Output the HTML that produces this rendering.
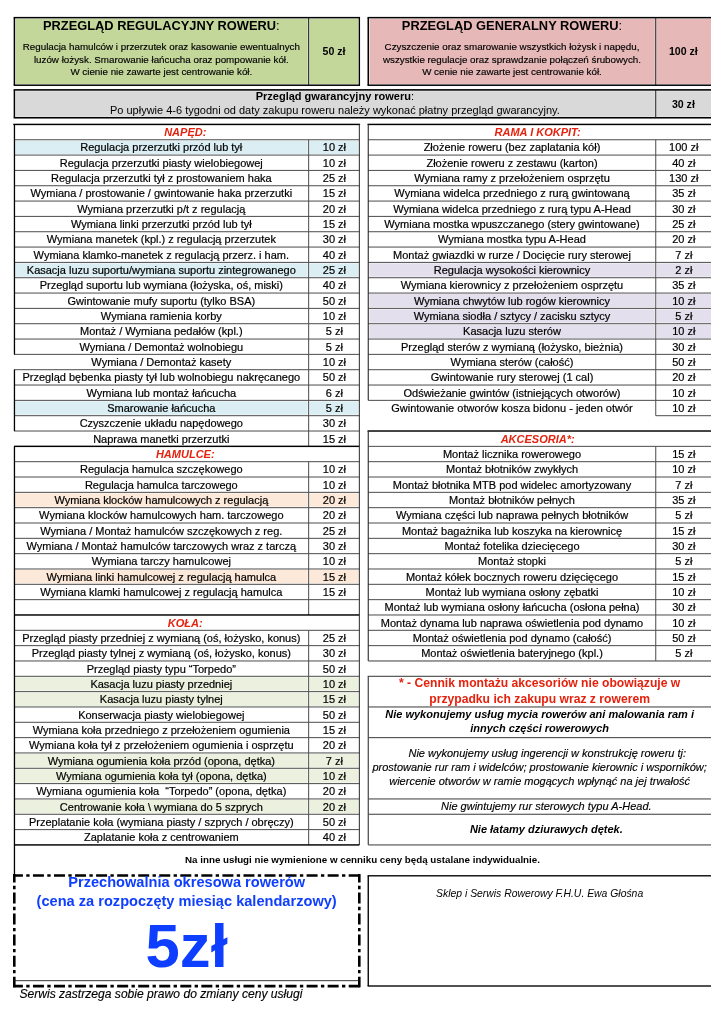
<!DOCTYPE html>
<html lang="pl"><head><meta charset="utf-8"><title>Cennik serwisu rowerowego</title>
<style>
html,body{margin:0;padding:0;background:#fff}
body{width:725px;height:1024px;position:relative;overflow:hidden;font-family:"Liberation Sans",sans-serif;color:#000}
#pg{position:absolute;left:0;top:0;width:711px;height:1024px;overflow:hidden;will-change:transform;transform:translateZ(0)}
#pg div,#pg svg{position:absolute;box-sizing:border-box}
#gfx{left:0;top:0}
.c{display:flex;align-items:center;justify-content:center;text-align:center;white-space:nowrap}
.t{font-size:11px;color:#000;-webkit-text-stroke:0.2px #000}
.h{font-size:11px;font-weight:bold;font-style:italic;color:#e4220e}
.tt{}
.td{color:#000;-webkit-text-stroke:0.15px #000}
.n1{font-weight:bold;color:#e4220e}
.n2{font-weight:bold;font-style:italic}
.n3{font-style:italic;color:#000;-webkit-text-stroke:0.15px #000}
.ni{font-weight:bold}
.pz,.big{font-weight:bold;color:#0e3eff}
.sk{font-style:italic}
.ft{font-style:italic;color:#000;-webkit-text-stroke:0.15px #000}
.tp{font-size:10.6px;font-weight:bold}
</style></head>
<body><div id="pg">
<svg id="gfx" width="711" height="1024" viewBox="0 0 711 1024" shape-rendering="geometricPrecision">
<g><rect x="15.10" y="140.75" width="292.55" height="13.33" fill="#daeef3"/>
<rect x="309.65" y="140.75" width="48.70" height="13.33" fill="#daeef3"/>
<rect x="15.10" y="263.39" width="292.55" height="13.33" fill="#daeef3"/>
<rect x="309.65" y="263.39" width="48.70" height="13.33" fill="#daeef3"/>
<rect x="15.10" y="401.36" width="292.55" height="13.33" fill="#daeef3"/>
<rect x="309.65" y="401.36" width="48.70" height="13.33" fill="#daeef3"/>
<rect x="15.10" y="493.34" width="292.55" height="13.33" fill="#fde9d9"/>
<rect x="309.65" y="493.34" width="48.70" height="13.33" fill="#fde9d9"/>
<rect x="15.10" y="569.99" width="292.55" height="13.33" fill="#fde9d9"/>
<rect x="309.65" y="569.99" width="48.70" height="13.33" fill="#fde9d9"/>
<rect x="15.10" y="677.30" width="292.55" height="13.33" fill="#ebf1de"/>
<rect x="309.65" y="677.30" width="48.70" height="13.33" fill="#ebf1de"/>
<rect x="15.10" y="692.63" width="292.55" height="13.33" fill="#ebf1de"/>
<rect x="309.65" y="692.63" width="48.70" height="13.33" fill="#ebf1de"/>
<rect x="15.10" y="753.95" width="292.55" height="13.33" fill="#ebf1de"/>
<rect x="309.65" y="753.95" width="48.70" height="13.33" fill="#ebf1de"/>
<rect x="15.10" y="769.28" width="292.55" height="13.33" fill="#ebf1de"/>
<rect x="309.65" y="769.28" width="48.70" height="13.33" fill="#ebf1de"/>
<rect x="15.10" y="799.94" width="292.55" height="13.33" fill="#ebf1de"/>
<rect x="309.65" y="799.94" width="48.70" height="13.33" fill="#ebf1de"/>
<rect x="369.35" y="263.39" width="285.40" height="13.33" fill="#e4dfec"/>
<rect x="656.75" y="263.39" width="55.25" height="13.33" fill="#e4dfec"/>
<rect x="369.35" y="294.05" width="285.40" height="13.33" fill="#e4dfec"/>
<rect x="656.75" y="294.05" width="55.25" height="13.33" fill="#e4dfec"/>
<rect x="369.35" y="309.38" width="285.40" height="13.33" fill="#e4dfec"/>
<rect x="656.75" y="309.38" width="55.25" height="13.33" fill="#e4dfec"/>
<rect x="369.35" y="324.71" width="285.40" height="13.33" fill="#e4dfec"/>
<rect x="656.75" y="324.71" width="55.25" height="13.33" fill="#e4dfec"/>
<rect x="15.60" y="18.85" width="292.15" height="65.15" fill="#c4d79b"/>
<rect x="309.55" y="18.85" width="48.60" height="65.15" fill="#c4d79b"/>
<rect x="369.45" y="18.85" width="285.40" height="65.15" fill="#e6b8b7"/>
<rect x="656.65" y="18.85" width="54.35" height="65.15" fill="#e6b8b7"/>
<rect x="15.60" y="91.20" width="639.25" height="25.25" fill="#d9d9d9"/>
<rect x="656.65" y="91.20" width="54.35" height="25.25" fill="#d9d9d9"/></g>
<g><rect x="14.00" y="139.25" width="345.35" height="1.00" fill="#4c4c4c"/>
<rect x="308.15" y="139.75" width="1.00" height="15.33" fill="#4c4c4c"/>
<rect x="14.00" y="154.58" width="345.35" height="1.00" fill="#4c4c4c"/>
<rect x="308.15" y="155.08" width="1.00" height="15.33" fill="#4c4c4c"/>
<rect x="14.00" y="169.91" width="345.35" height="1.00" fill="#4c4c4c"/>
<rect x="308.15" y="170.41" width="1.00" height="15.33" fill="#4c4c4c"/>
<rect x="14.00" y="185.24" width="345.35" height="1.00" fill="#4c4c4c"/>
<rect x="308.15" y="185.74" width="1.00" height="15.33" fill="#4c4c4c"/>
<rect x="14.00" y="200.57" width="345.35" height="1.00" fill="#4c4c4c"/>
<rect x="308.15" y="201.07" width="1.00" height="15.33" fill="#4c4c4c"/>
<rect x="14.00" y="215.90" width="345.35" height="1.00" fill="#4c4c4c"/>
<rect x="308.15" y="216.40" width="1.00" height="15.33" fill="#4c4c4c"/>
<rect x="14.00" y="231.23" width="345.35" height="1.00" fill="#4c4c4c"/>
<rect x="308.15" y="231.73" width="1.00" height="15.33" fill="#4c4c4c"/>
<rect x="14.00" y="246.56" width="345.35" height="1.00" fill="#4c4c4c"/>
<rect x="308.15" y="247.06" width="1.00" height="15.33" fill="#4c4c4c"/>
<rect x="14.00" y="261.89" width="345.35" height="1.00" fill="#4c4c4c"/>
<rect x="308.15" y="262.39" width="1.00" height="15.33" fill="#4c4c4c"/>
<rect x="14.00" y="277.22" width="345.35" height="1.00" fill="#4c4c4c"/>
<rect x="308.15" y="277.72" width="1.00" height="15.33" fill="#4c4c4c"/>
<rect x="14.00" y="292.55" width="345.35" height="1.00" fill="#4c4c4c"/>
<rect x="308.15" y="293.05" width="1.00" height="15.33" fill="#4c4c4c"/>
<rect x="14.00" y="307.88" width="345.35" height="1.00" fill="#4c4c4c"/>
<rect x="308.15" y="308.38" width="1.00" height="15.33" fill="#4c4c4c"/>
<rect x="14.00" y="323.21" width="345.35" height="1.00" fill="#4c4c4c"/>
<rect x="308.15" y="323.71" width="1.00" height="15.33" fill="#4c4c4c"/>
<rect x="14.00" y="338.54" width="345.35" height="1.00" fill="#4c4c4c"/>
<rect x="308.15" y="339.04" width="1.00" height="15.33" fill="#4c4c4c"/>
<rect x="14.00" y="353.87" width="345.35" height="1.00" fill="#4c4c4c"/>
<rect x="308.15" y="354.37" width="1.00" height="15.33" fill="#4c4c4c"/>
<rect x="14.00" y="369.20" width="345.35" height="1.00" fill="#4c4c4c"/>
<rect x="308.15" y="369.70" width="1.00" height="15.33" fill="#4c4c4c"/>
<rect x="14.00" y="384.53" width="345.35" height="1.00" fill="#4c4c4c"/>
<rect x="308.15" y="385.03" width="1.00" height="15.33" fill="#4c4c4c"/>
<rect x="14.00" y="399.86" width="345.35" height="1.00" fill="#4c4c4c"/>
<rect x="308.15" y="400.36" width="1.00" height="15.33" fill="#4c4c4c"/>
<rect x="14.00" y="415.19" width="345.35" height="1.00" fill="#4c4c4c"/>
<rect x="308.15" y="415.69" width="1.00" height="15.33" fill="#4c4c4c"/>
<rect x="14.00" y="430.52" width="345.35" height="1.00" fill="#4c4c4c"/>
<rect x="308.15" y="431.02" width="1.00" height="15.33" fill="#4c4c4c"/>
<rect x="14.00" y="445.62" width="345.35" height="1.45" fill="#000"/>
<rect x="14.00" y="461.18" width="345.35" height="1.00" fill="#4c4c4c"/>
<rect x="308.15" y="461.68" width="1.00" height="15.33" fill="#4c4c4c"/>
<rect x="14.00" y="476.51" width="345.35" height="1.00" fill="#4c4c4c"/>
<rect x="308.15" y="477.01" width="1.00" height="15.33" fill="#4c4c4c"/>
<rect x="14.00" y="491.84" width="345.35" height="1.00" fill="#4c4c4c"/>
<rect x="308.15" y="492.34" width="1.00" height="15.33" fill="#4c4c4c"/>
<rect x="14.00" y="507.17" width="345.35" height="1.00" fill="#4c4c4c"/>
<rect x="308.15" y="507.67" width="1.00" height="15.33" fill="#4c4c4c"/>
<rect x="14.00" y="522.50" width="345.35" height="1.00" fill="#4c4c4c"/>
<rect x="308.15" y="523.00" width="1.00" height="15.33" fill="#4c4c4c"/>
<rect x="14.00" y="537.83" width="345.35" height="1.00" fill="#4c4c4c"/>
<rect x="308.15" y="538.33" width="1.00" height="15.33" fill="#4c4c4c"/>
<rect x="14.00" y="553.16" width="345.35" height="1.00" fill="#4c4c4c"/>
<rect x="308.15" y="553.66" width="1.00" height="15.33" fill="#4c4c4c"/>
<rect x="14.00" y="568.49" width="345.35" height="1.00" fill="#4c4c4c"/>
<rect x="308.15" y="568.99" width="1.00" height="15.33" fill="#4c4c4c"/>
<rect x="14.00" y="583.82" width="345.35" height="1.00" fill="#4c4c4c"/>
<rect x="308.15" y="584.32" width="1.00" height="15.33" fill="#4c4c4c"/>
<rect x="14.00" y="599.15" width="345.35" height="1.00" fill="#4c4c4c"/>
<rect x="308.15" y="599.65" width="1.00" height="15.33" fill="#4c4c4c"/>
<rect x="14.00" y="614.25" width="345.35" height="1.45" fill="#000"/>
<rect x="14.00" y="629.81" width="345.35" height="1.00" fill="#4c4c4c"/>
<rect x="308.15" y="630.31" width="1.00" height="15.33" fill="#4c4c4c"/>
<rect x="14.00" y="645.14" width="345.35" height="1.00" fill="#4c4c4c"/>
<rect x="308.15" y="645.64" width="1.00" height="15.33" fill="#4c4c4c"/>
<rect x="14.00" y="660.47" width="345.35" height="1.00" fill="#4c4c4c"/>
<rect x="308.15" y="660.97" width="1.00" height="15.33" fill="#4c4c4c"/>
<rect x="14.00" y="675.80" width="345.35" height="1.00" fill="#4c4c4c"/>
<rect x="308.15" y="676.30" width="1.00" height="15.33" fill="#4c4c4c"/>
<rect x="14.00" y="691.13" width="345.35" height="1.00" fill="#4c4c4c"/>
<rect x="308.15" y="691.63" width="1.00" height="15.33" fill="#4c4c4c"/>
<rect x="14.00" y="706.46" width="345.35" height="1.00" fill="#4c4c4c"/>
<rect x="308.15" y="706.96" width="1.00" height="15.33" fill="#4c4c4c"/>
<rect x="14.00" y="721.79" width="345.35" height="1.00" fill="#4c4c4c"/>
<rect x="308.15" y="722.29" width="1.00" height="15.33" fill="#4c4c4c"/>
<rect x="14.00" y="737.12" width="345.35" height="1.00" fill="#4c4c4c"/>
<rect x="308.15" y="737.62" width="1.00" height="15.33" fill="#4c4c4c"/>
<rect x="14.00" y="752.45" width="345.35" height="1.00" fill="#4c4c4c"/>
<rect x="308.15" y="752.95" width="1.00" height="15.33" fill="#4c4c4c"/>
<rect x="14.00" y="767.78" width="345.35" height="1.00" fill="#4c4c4c"/>
<rect x="308.15" y="768.28" width="1.00" height="15.33" fill="#4c4c4c"/>
<rect x="14.00" y="783.11" width="345.35" height="1.00" fill="#4c4c4c"/>
<rect x="308.15" y="783.61" width="1.00" height="15.33" fill="#4c4c4c"/>
<rect x="14.00" y="798.44" width="345.35" height="1.00" fill="#4c4c4c"/>
<rect x="308.15" y="798.94" width="1.00" height="15.33" fill="#4c4c4c"/>
<rect x="14.00" y="813.77" width="345.35" height="1.00" fill="#4c4c4c"/>
<rect x="308.15" y="814.27" width="1.00" height="15.33" fill="#4c4c4c"/>
<rect x="14.00" y="829.10" width="345.35" height="1.00" fill="#4c4c4c"/>
<rect x="308.15" y="829.60" width="1.00" height="15.33" fill="#4c4c4c"/>
<rect x="13.28" y="123.70" width="346.80" height="1.45" fill="#000"/>
<rect x="358.83" y="124.42" width="1.05" height="720.51" fill="#333"/>
<rect x="14.00" y="844.20" width="345.35" height="1.45" fill="#000"/>
<rect x="368.25" y="139.25" width="342.75" height="1.00" fill="#4c4c4c"/>
<rect x="655.25" y="139.75" width="1.00" height="15.33" fill="#4c4c4c"/>
<rect x="368.25" y="154.58" width="342.75" height="1.00" fill="#4c4c4c"/>
<rect x="655.25" y="155.08" width="1.00" height="15.33" fill="#4c4c4c"/>
<rect x="368.25" y="169.91" width="342.75" height="1.00" fill="#4c4c4c"/>
<rect x="655.25" y="170.41" width="1.00" height="15.33" fill="#4c4c4c"/>
<rect x="368.25" y="185.24" width="342.75" height="1.00" fill="#4c4c4c"/>
<rect x="655.25" y="185.74" width="1.00" height="15.33" fill="#4c4c4c"/>
<rect x="368.25" y="200.57" width="342.75" height="1.00" fill="#4c4c4c"/>
<rect x="655.25" y="201.07" width="1.00" height="15.33" fill="#4c4c4c"/>
<rect x="368.25" y="215.90" width="342.75" height="1.00" fill="#4c4c4c"/>
<rect x="655.25" y="216.40" width="1.00" height="15.33" fill="#4c4c4c"/>
<rect x="368.25" y="231.23" width="342.75" height="1.00" fill="#4c4c4c"/>
<rect x="655.25" y="231.73" width="1.00" height="15.33" fill="#4c4c4c"/>
<rect x="368.25" y="246.56" width="342.75" height="1.00" fill="#4c4c4c"/>
<rect x="655.25" y="247.06" width="1.00" height="15.33" fill="#4c4c4c"/>
<rect x="368.25" y="261.89" width="342.75" height="1.00" fill="#4c4c4c"/>
<rect x="655.25" y="262.39" width="1.00" height="15.33" fill="#4c4c4c"/>
<rect x="368.25" y="277.22" width="342.75" height="1.00" fill="#4c4c4c"/>
<rect x="655.25" y="277.72" width="1.00" height="15.33" fill="#4c4c4c"/>
<rect x="368.25" y="292.55" width="342.75" height="1.00" fill="#4c4c4c"/>
<rect x="655.25" y="293.05" width="1.00" height="15.33" fill="#4c4c4c"/>
<rect x="368.25" y="307.88" width="342.75" height="1.00" fill="#4c4c4c"/>
<rect x="655.25" y="308.38" width="1.00" height="15.33" fill="#4c4c4c"/>
<rect x="368.25" y="323.21" width="342.75" height="1.00" fill="#4c4c4c"/>
<rect x="655.25" y="323.71" width="1.00" height="15.33" fill="#4c4c4c"/>
<rect x="368.25" y="338.54" width="342.75" height="1.00" fill="#4c4c4c"/>
<rect x="655.25" y="339.04" width="1.00" height="15.33" fill="#4c4c4c"/>
<rect x="368.25" y="353.87" width="342.75" height="1.00" fill="#4c4c4c"/>
<rect x="655.25" y="354.37" width="1.00" height="15.33" fill="#4c4c4c"/>
<rect x="368.25" y="369.20" width="342.75" height="1.00" fill="#4c4c4c"/>
<rect x="655.25" y="369.70" width="1.00" height="15.33" fill="#4c4c4c"/>
<rect x="368.25" y="384.53" width="342.75" height="1.00" fill="#4c4c4c"/>
<rect x="655.25" y="385.03" width="1.00" height="15.33" fill="#4c4c4c"/>
<rect x="368.25" y="399.86" width="342.75" height="1.00" fill="#4c4c4c"/>
<rect x="655.25" y="400.36" width="1.00" height="15.33" fill="#4c4c4c"/>
<rect x="655.75" y="415.19" width="55.25" height="1.00" fill="#4c4c4c"/>
<rect x="367.52" y="123.70" width="343.48" height="1.45" fill="#000"/>
<rect x="367.70" y="124.42" width="1.10" height="275.94" fill="#2a2a2a"/>
<rect x="368.25" y="445.85" width="342.75" height="1.00" fill="#4c4c4c"/>
<rect x="655.25" y="446.35" width="1.00" height="15.33" fill="#4c4c4c"/>
<rect x="368.25" y="461.18" width="342.75" height="1.00" fill="#4c4c4c"/>
<rect x="655.25" y="461.68" width="1.00" height="15.33" fill="#4c4c4c"/>
<rect x="368.25" y="476.51" width="342.75" height="1.00" fill="#4c4c4c"/>
<rect x="655.25" y="477.01" width="1.00" height="15.33" fill="#4c4c4c"/>
<rect x="368.25" y="491.84" width="342.75" height="1.00" fill="#4c4c4c"/>
<rect x="655.25" y="492.34" width="1.00" height="15.33" fill="#4c4c4c"/>
<rect x="368.25" y="507.17" width="342.75" height="1.00" fill="#4c4c4c"/>
<rect x="655.25" y="507.67" width="1.00" height="15.33" fill="#4c4c4c"/>
<rect x="368.25" y="522.50" width="342.75" height="1.00" fill="#4c4c4c"/>
<rect x="655.25" y="523.00" width="1.00" height="15.33" fill="#4c4c4c"/>
<rect x="368.25" y="537.83" width="342.75" height="1.00" fill="#4c4c4c"/>
<rect x="655.25" y="538.33" width="1.00" height="15.33" fill="#4c4c4c"/>
<rect x="368.25" y="553.16" width="342.75" height="1.00" fill="#4c4c4c"/>
<rect x="655.25" y="553.66" width="1.00" height="15.33" fill="#4c4c4c"/>
<rect x="368.25" y="568.49" width="342.75" height="1.00" fill="#4c4c4c"/>
<rect x="655.25" y="568.99" width="1.00" height="15.33" fill="#4c4c4c"/>
<rect x="368.25" y="583.82" width="342.75" height="1.00" fill="#4c4c4c"/>
<rect x="655.25" y="584.32" width="1.00" height="15.33" fill="#4c4c4c"/>
<rect x="368.25" y="599.15" width="342.75" height="1.00" fill="#4c4c4c"/>
<rect x="655.25" y="599.65" width="1.00" height="15.33" fill="#4c4c4c"/>
<rect x="368.25" y="614.48" width="342.75" height="1.00" fill="#4c4c4c"/>
<rect x="655.25" y="614.98" width="1.00" height="15.33" fill="#4c4c4c"/>
<rect x="368.25" y="629.81" width="342.75" height="1.00" fill="#4c4c4c"/>
<rect x="655.25" y="630.31" width="1.00" height="15.33" fill="#4c4c4c"/>
<rect x="368.25" y="645.14" width="342.75" height="1.00" fill="#4c4c4c"/>
<rect x="655.25" y="645.64" width="1.00" height="15.33" fill="#4c4c4c"/>
<rect x="367.52" y="430.29" width="343.48" height="1.45" fill="#000"/>
<rect x="367.70" y="431.02" width="1.10" height="229.95" fill="#2a2a2a"/>
<rect x="368.25" y="660.42" width="342.75" height="1.10" fill="#4c4c4c"/>
<rect x="367.75" y="675.77" width="343.25" height="1.05" fill="#3c3c3c"/>
<rect x="367.70" y="676.30" width="1.10" height="168.63" fill="#333"/>
<rect x="368.25" y="706.41" width="342.75" height="1.10" fill="#4c4c4c"/>
<rect x="368.25" y="737.07" width="342.75" height="1.10" fill="#4c4c4c"/>
<rect x="368.25" y="798.39" width="342.75" height="1.10" fill="#4c4c4c"/>
<rect x="368.25" y="813.72" width="342.75" height="1.10" fill="#4c4c4c"/>
<rect x="368.25" y="844.38" width="342.75" height="1.10" fill="#4c4c4c"/>
<rect x="13.80" y="124.42" width="1.30" height="229.95" fill="#000"/>
<rect x="13.80" y="369.70" width="1.30" height="61.32" fill="#000"/>
<rect x="13.80" y="446.35" width="1.30" height="428.15" fill="#000"/>
<rect x="13.65" y="16.90" width="346.40" height="1.50" fill="#000"/>
<rect x="13.65" y="84.45" width="346.40" height="1.50" fill="#000"/>
<rect x="13.65" y="17.65" width="1.50" height="67.55" fill="#000"/>
<rect x="358.65" y="17.65" width="1.40" height="67.55" fill="#000"/>
<rect x="308.10" y="17.65" width="1.10" height="67.55" fill="#222"/>
<rect x="367.50" y="16.90" width="343.50" height="1.50" fill="#000"/>
<rect x="367.50" y="84.45" width="343.50" height="1.50" fill="#000"/>
<rect x="367.50" y="17.65" width="1.50" height="67.55" fill="#000"/>
<rect x="655.20" y="17.65" width="1.10" height="67.55" fill="#222"/>
<rect x="13.65" y="89.10" width="697.35" height="1.60" fill="#000"/>
<rect x="13.65" y="116.95" width="697.35" height="1.60" fill="#000"/>
<rect x="13.65" y="89.90" width="1.50" height="27.85" fill="#000"/>
<rect x="655.20" y="89.90" width="1.10" height="27.85" fill="#222"/>
<g fill="none" stroke="#000" stroke-width="2.6" stroke-dasharray="11 3.35 3.35 3.35"><path d="M13.15 875.5H360.45" stroke-dashoffset="1.25"/><path d="M13.15 986.1H360.45" stroke-dashoffset="1.25"/><path d="M14.3 874V987.3" stroke-dashoffset="2.55"/><path d="M359.3 874V987.3" stroke-dashoffset="2.55"/></g>
<rect x="14.00" y="980.25" width="344.40" height="0.90" fill="#222"/>
<rect x="367.60" y="875.12" width="343.40" height="1.35" fill="#000"/>
<rect x="367.60" y="985.33" width="343.40" height="1.35" fill="#000"/>
<rect x="367.57" y="875.80" width="1.35" height="110.20" fill="#000"/></g>
</svg>
<div class="c h" style="left:12.60px;top:124.42px;width:345.35px;height:15.33px;"><span>NAPĘD:</span></div>
<div class="c t" style="left:14.00px;top:139.75px;width:294.65px;height:15.33px;"><span>Regulacja przerzutki przód lub tył</span></div>
<div class="c t" style="left:309.05px;top:139.75px;width:50.70px;height:15.33px;"><span>10 zł</span></div>
<div class="c t" style="left:14.00px;top:155.08px;width:294.65px;height:15.33px;"><span>Regulacja przerzutki piasty wielobiegowej</span></div>
<div class="c t" style="left:309.05px;top:155.08px;width:50.70px;height:15.33px;"><span>10 zł</span></div>
<div class="c t" style="left:14.00px;top:170.41px;width:294.65px;height:15.33px;"><span>Regulacja przerzutki tył z prostowaniem haka</span></div>
<div class="c t" style="left:309.05px;top:170.41px;width:50.70px;height:15.33px;"><span>25 zł</span></div>
<div class="c t" style="left:14.00px;top:185.74px;width:294.65px;height:15.33px;"><span>Wymiana / prostowanie / gwintowanie haka przerzutki</span></div>
<div class="c t" style="left:309.05px;top:185.74px;width:50.70px;height:15.33px;"><span>15 zł</span></div>
<div class="c t" style="left:14.00px;top:201.07px;width:294.65px;height:15.33px;"><span>Wymiana przerzutki p/t z regulacją</span></div>
<div class="c t" style="left:309.05px;top:201.07px;width:50.70px;height:15.33px;"><span>20 zł</span></div>
<div class="c t" style="left:14.00px;top:216.40px;width:294.65px;height:15.33px;"><span>Wymiana linki przerzutki przód lub tył</span></div>
<div class="c t" style="left:309.05px;top:216.40px;width:50.70px;height:15.33px;"><span>15 zł</span></div>
<div class="c t" style="left:14.00px;top:231.73px;width:294.65px;height:15.33px;"><span>Wymiana manetek (kpl.) z regulacją przerzutek</span></div>
<div class="c t" style="left:309.05px;top:231.73px;width:50.70px;height:15.33px;"><span>30 zł</span></div>
<div class="c t" style="left:14.00px;top:247.06px;width:294.65px;height:15.33px;"><span>Wymiana klamko-manetek z regulacją przerz. i ham.</span></div>
<div class="c t" style="left:309.05px;top:247.06px;width:50.70px;height:15.33px;"><span>40 zł</span></div>
<div class="c t" style="left:14.00px;top:262.39px;width:294.65px;height:15.33px;"><span>Kasacja luzu suportu/wymiana suportu zintegrowanego</span></div>
<div class="c t" style="left:309.05px;top:262.39px;width:50.70px;height:15.33px;"><span>25 zł</span></div>
<div class="c t" style="left:14.00px;top:277.72px;width:294.65px;height:15.33px;"><span>Przegląd suportu lub wymiana (łożyska, oś, miski)</span></div>
<div class="c t" style="left:309.05px;top:277.72px;width:50.70px;height:15.33px;"><span>40 zł</span></div>
<div class="c t" style="left:14.00px;top:293.05px;width:294.65px;height:15.33px;"><span>Gwintowanie mufy suportu (tylko BSA)</span></div>
<div class="c t" style="left:309.05px;top:293.05px;width:50.70px;height:15.33px;"><span>50 zł</span></div>
<div class="c t" style="left:14.00px;top:308.38px;width:294.65px;height:15.33px;"><span>Wymiana ramienia korby</span></div>
<div class="c t" style="left:309.05px;top:308.38px;width:50.70px;height:15.33px;"><span>10 zł</span></div>
<div class="c t" style="left:14.00px;top:323.71px;width:294.65px;height:15.33px;"><span>Montaż / Wymiana pedałów (kpl.)</span></div>
<div class="c t" style="left:309.05px;top:323.71px;width:50.70px;height:15.33px;"><span>5 zł</span></div>
<div class="c t" style="left:14.00px;top:339.04px;width:294.65px;height:15.33px;"><span>Wymiana / Demontaż wolnobiegu</span></div>
<div class="c t" style="left:309.05px;top:339.04px;width:50.70px;height:15.33px;"><span>5 zł</span></div>
<div class="c t" style="left:14.00px;top:354.37px;width:294.65px;height:15.33px;"><span>Wymiana / Demontaż kasety</span></div>
<div class="c t" style="left:309.05px;top:354.37px;width:50.70px;height:15.33px;"><span>10 zł</span></div>
<div class="c t" style="left:14.00px;top:369.70px;width:294.65px;height:15.33px;"><span>Przegląd bębenka piasty tył lub wolnobiegu nakręcanego</span></div>
<div class="c t" style="left:309.05px;top:369.70px;width:50.70px;height:15.33px;"><span>50 zł</span></div>
<div class="c t" style="left:14.00px;top:385.03px;width:294.65px;height:15.33px;"><span>Wymiana lub montaż łańcucha</span></div>
<div class="c t" style="left:309.05px;top:385.03px;width:50.70px;height:15.33px;"><span>6 zł</span></div>
<div class="c t" style="left:14.00px;top:400.36px;width:294.65px;height:15.33px;"><span>Smarowanie łańcucha</span></div>
<div class="c t" style="left:309.05px;top:400.36px;width:50.70px;height:15.33px;"><span>5 zł</span></div>
<div class="c t" style="left:14.00px;top:415.69px;width:294.65px;height:15.33px;"><span>Czyszczenie układu napędowego</span></div>
<div class="c t" style="left:309.05px;top:415.69px;width:50.70px;height:15.33px;"><span>30 zł</span></div>
<div class="c t" style="left:14.00px;top:431.02px;width:294.65px;height:15.33px;"><span>Naprawa manetki przerzutki</span></div>
<div class="c t" style="left:309.05px;top:431.02px;width:50.70px;height:15.33px;"><span>15 zł</span></div>
<div class="c h" style="left:12.60px;top:446.35px;width:345.35px;height:15.33px;"><span>HAMULCE:</span></div>
<div class="c t" style="left:14.00px;top:461.68px;width:294.65px;height:15.33px;"><span>Regulacja hamulca szczękowego</span></div>
<div class="c t" style="left:309.05px;top:461.68px;width:50.70px;height:15.33px;"><span>10 zł</span></div>
<div class="c t" style="left:14.00px;top:477.01px;width:294.65px;height:15.33px;"><span>Regulacja hamulca tarczowego</span></div>
<div class="c t" style="left:309.05px;top:477.01px;width:50.70px;height:15.33px;"><span>10 zł</span></div>
<div class="c t" style="left:14.00px;top:492.34px;width:294.65px;height:15.33px;"><span>Wymiana klocków hamulcowych z regulacją</span></div>
<div class="c t" style="left:309.05px;top:492.34px;width:50.70px;height:15.33px;"><span>20 zł</span></div>
<div class="c t" style="left:14.00px;top:507.67px;width:294.65px;height:15.33px;"><span>Wymiana klocków hamulcowych ham. tarczowego</span></div>
<div class="c t" style="left:309.05px;top:507.67px;width:50.70px;height:15.33px;"><span>20 zł</span></div>
<div class="c t" style="left:14.00px;top:523.00px;width:294.65px;height:15.33px;"><span>Wymiana / Montaż hamulców szczękowych z reg.</span></div>
<div class="c t" style="left:309.05px;top:523.00px;width:50.70px;height:15.33px;"><span>25 zł</span></div>
<div class="c t" style="left:14.00px;top:538.33px;width:294.65px;height:15.33px;"><span>Wymiana / Montaż hamulców tarczowych wraz z tarczą</span></div>
<div class="c t" style="left:309.05px;top:538.33px;width:50.70px;height:15.33px;"><span>30 zł</span></div>
<div class="c t" style="left:14.00px;top:553.66px;width:294.65px;height:15.33px;"><span>Wymiana tarczy hamulcowej</span></div>
<div class="c t" style="left:309.05px;top:553.66px;width:50.70px;height:15.33px;"><span>10 zł</span></div>
<div class="c t" style="left:14.00px;top:568.99px;width:294.65px;height:15.33px;"><span>Wymiana linki hamulcowej z regulacją hamulca</span></div>
<div class="c t" style="left:309.05px;top:568.99px;width:50.70px;height:15.33px;"><span>15 zł</span></div>
<div class="c t" style="left:14.00px;top:584.32px;width:294.65px;height:15.33px;"><span>Wymiana klamki hamulcowej z regulacją hamulca</span></div>
<div class="c t" style="left:309.05px;top:584.32px;width:50.70px;height:15.33px;"><span>15 zł</span></div>
<div class="c t" style="left:14.00px;top:599.65px;width:294.65px;height:15.33px;"><span></span></div>
<div class="c t" style="left:309.05px;top:599.65px;width:50.70px;height:15.33px;"><span></span></div>
<div class="c h" style="left:12.60px;top:614.98px;width:345.35px;height:15.33px;"><span>KOŁA:</span></div>
<div class="c t" style="left:14.00px;top:630.31px;width:294.65px;height:15.33px;"><span>Przegląd piasty przedniej z wymianą (oś, łożysko, konus)</span></div>
<div class="c t" style="left:309.05px;top:630.31px;width:50.70px;height:15.33px;"><span>25 zł</span></div>
<div class="c t" style="left:14.00px;top:645.64px;width:294.65px;height:15.33px;"><span>Przegląd piasty tylnej z wymianą (oś, łożysko, konus)</span></div>
<div class="c t" style="left:309.05px;top:645.64px;width:50.70px;height:15.33px;"><span>30 zł</span></div>
<div class="c t" style="left:14.00px;top:660.97px;width:294.65px;height:15.33px;"><span>Przegląd piasty typu “Torpedo”</span></div>
<div class="c t" style="left:309.05px;top:660.97px;width:50.70px;height:15.33px;"><span>50 zł</span></div>
<div class="c t" style="left:14.00px;top:676.30px;width:294.65px;height:15.33px;"><span>Kasacja luzu piasty przedniej</span></div>
<div class="c t" style="left:309.05px;top:676.30px;width:50.70px;height:15.33px;"><span>10 zł</span></div>
<div class="c t" style="left:14.00px;top:691.63px;width:294.65px;height:15.33px;"><span>Kasacja luzu piasty tylnej</span></div>
<div class="c t" style="left:309.05px;top:691.63px;width:50.70px;height:15.33px;"><span>15 zł</span></div>
<div class="c t" style="left:14.00px;top:706.96px;width:294.65px;height:15.33px;"><span>Konserwacja piasty wielobiegowej</span></div>
<div class="c t" style="left:309.05px;top:706.96px;width:50.70px;height:15.33px;"><span>50 zł</span></div>
<div class="c t" style="left:14.00px;top:722.29px;width:294.65px;height:15.33px;"><span>Wymiana koła przedniego z przełożeniem ogumienia</span></div>
<div class="c t" style="left:309.05px;top:722.29px;width:50.70px;height:15.33px;"><span>15 zł</span></div>
<div class="c t" style="left:14.00px;top:737.62px;width:294.65px;height:15.33px;"><span>Wymiana koła tył z przełożeniem ogumienia i osprzętu</span></div>
<div class="c t" style="left:309.05px;top:737.62px;width:50.70px;height:15.33px;"><span>20 zł</span></div>
<div class="c t" style="left:14.00px;top:752.95px;width:294.65px;height:15.33px;"><span>Wymiana ogumienia koła przód (opona, dętka)</span></div>
<div class="c t" style="left:309.05px;top:752.95px;width:50.70px;height:15.33px;"><span>7 zł</span></div>
<div class="c t" style="left:14.00px;top:768.28px;width:294.65px;height:15.33px;"><span>Wymiana ogumienia koła tył (opona, dętka)</span></div>
<div class="c t" style="left:309.05px;top:768.28px;width:50.70px;height:15.33px;"><span>10 zł</span></div>
<div class="c t" style="left:14.00px;top:783.61px;width:294.65px;height:15.33px;"><span>Wymiana ogumienia koła &nbsp;“Torpedo” (opona, dętka)</span></div>
<div class="c t" style="left:309.05px;top:783.61px;width:50.70px;height:15.33px;"><span>20 zł</span></div>
<div class="c t" style="left:14.00px;top:798.94px;width:294.65px;height:15.33px;"><span>Centrowanie koła \ wymiana do 5 szprych</span></div>
<div class="c t" style="left:309.05px;top:798.94px;width:50.70px;height:15.33px;"><span>20 zł</span></div>
<div class="c t" style="left:14.00px;top:814.27px;width:294.65px;height:15.33px;"><span>Przeplatanie koła (wymiana piasty / szprych / obręczy)</span></div>
<div class="c t" style="left:309.05px;top:814.27px;width:50.70px;height:15.33px;"><span>50 zł</span></div>
<div class="c t" style="left:14.00px;top:829.60px;width:294.65px;height:15.33px;"><span>Zaplatanie koła z centrowaniem</span></div>
<div class="c t" style="left:309.05px;top:829.60px;width:50.70px;height:15.33px;"><span>40 zł</span></div>
<div class="c h" style="left:366.25px;top:124.42px;width:342.75px;height:15.33px;"><span>RAMA I KOKPIT:</span></div>
<div class="c t" style="left:368.25px;top:139.75px;width:287.50px;height:15.33px;"><span>Złożenie roweru (bez zaplatania kół)</span></div>
<div class="c t" style="left:656.15px;top:139.75px;width:55.25px;height:15.33px;"><span>100 zł</span></div>
<div class="c t" style="left:368.25px;top:155.08px;width:287.50px;height:15.33px;"><span>Złożenie roweru z zestawu (karton)</span></div>
<div class="c t" style="left:656.15px;top:155.08px;width:55.25px;height:15.33px;"><span>40 zł</span></div>
<div class="c t" style="left:368.25px;top:170.41px;width:287.50px;height:15.33px;"><span>Wymiana ramy z przełożeniem osprzętu</span></div>
<div class="c t" style="left:656.15px;top:170.41px;width:55.25px;height:15.33px;"><span>130 zł</span></div>
<div class="c t" style="left:368.25px;top:185.74px;width:287.50px;height:15.33px;"><span>Wymiana widelca przedniego z rurą gwintowaną</span></div>
<div class="c t" style="left:656.15px;top:185.74px;width:55.25px;height:15.33px;"><span>35 zł</span></div>
<div class="c t" style="left:368.25px;top:201.07px;width:287.50px;height:15.33px;"><span>Wymiana widelca przedniego z rurą typu A-Head</span></div>
<div class="c t" style="left:656.15px;top:201.07px;width:55.25px;height:15.33px;"><span>30 zł</span></div>
<div class="c t" style="left:368.25px;top:216.40px;width:287.50px;height:15.33px;"><span>Wymiana mostka wpuszczanego (stery gwintowane)</span></div>
<div class="c t" style="left:656.15px;top:216.40px;width:55.25px;height:15.33px;"><span>25 zł</span></div>
<div class="c t" style="left:368.25px;top:231.73px;width:287.50px;height:15.33px;"><span>Wymiana mostka typu A-Head</span></div>
<div class="c t" style="left:656.15px;top:231.73px;width:55.25px;height:15.33px;"><span>20 zł</span></div>
<div class="c t" style="left:368.25px;top:247.06px;width:287.50px;height:15.33px;"><span>Montaż gwiazdki w rurze / Docięcie rury sterowej</span></div>
<div class="c t" style="left:656.15px;top:247.06px;width:55.25px;height:15.33px;"><span>7 zł</span></div>
<div class="c t" style="left:368.25px;top:262.39px;width:287.50px;height:15.33px;"><span>Regulacja wysokości kierownicy</span></div>
<div class="c t" style="left:656.15px;top:262.39px;width:55.25px;height:15.33px;"><span>2 zł</span></div>
<div class="c t" style="left:368.25px;top:277.72px;width:287.50px;height:15.33px;"><span>Wymiana kierownicy z przełożeniem osprzętu</span></div>
<div class="c t" style="left:656.15px;top:277.72px;width:55.25px;height:15.33px;"><span>35 zł</span></div>
<div class="c t" style="left:368.25px;top:293.05px;width:287.50px;height:15.33px;"><span>Wymiana chwytów lub rogów kierownicy</span></div>
<div class="c t" style="left:656.15px;top:293.05px;width:55.25px;height:15.33px;"><span>10 zł</span></div>
<div class="c t" style="left:368.25px;top:308.38px;width:287.50px;height:15.33px;"><span>Wymiana siodła / sztycy / zacisku sztycy</span></div>
<div class="c t" style="left:656.15px;top:308.38px;width:55.25px;height:15.33px;"><span>5 zł</span></div>
<div class="c t" style="left:368.25px;top:323.71px;width:287.50px;height:15.33px;"><span>Kasacja luzu sterów</span></div>
<div class="c t" style="left:656.15px;top:323.71px;width:55.25px;height:15.33px;"><span>10 zł</span></div>
<div class="c t" style="left:368.25px;top:339.04px;width:287.50px;height:15.33px;"><span>Przegląd sterów z wymianą (łożysko, bieżnia)</span></div>
<div class="c t" style="left:656.15px;top:339.04px;width:55.25px;height:15.33px;"><span>30 zł</span></div>
<div class="c t" style="left:368.25px;top:354.37px;width:287.50px;height:15.33px;"><span>Wymiana sterów (całość)</span></div>
<div class="c t" style="left:656.15px;top:354.37px;width:55.25px;height:15.33px;"><span>50 zł</span></div>
<div class="c t" style="left:368.25px;top:369.70px;width:287.50px;height:15.33px;"><span>Gwintowanie rury sterowej (1 cal)</span></div>
<div class="c t" style="left:656.15px;top:369.70px;width:55.25px;height:15.33px;"><span>20 zł</span></div>
<div class="c t" style="left:368.25px;top:385.03px;width:287.50px;height:15.33px;"><span>Odświeżanie gwintów (istniejących otworów)</span></div>
<div class="c t" style="left:656.15px;top:385.03px;width:55.25px;height:15.33px;"><span>10 zł</span></div>
<div class="c t" style="left:368.25px;top:400.36px;width:287.50px;height:15.33px;"><span>Gwintowanie otworów kosza bidonu - jeden otwór</span></div>
<div class="c t" style="left:656.15px;top:400.36px;width:55.25px;height:15.33px;"><span>10 zł</span></div>
<div class="c h" style="left:366.25px;top:431.02px;width:342.75px;height:15.33px;"><span>AKCESORIA*:</span></div>
<div class="c t" style="left:368.25px;top:446.35px;width:287.50px;height:15.33px;"><span>Montaż licznika rowerowego</span></div>
<div class="c t" style="left:656.15px;top:446.35px;width:55.25px;height:15.33px;"><span>15 zł</span></div>
<div class="c t" style="left:368.25px;top:461.68px;width:287.50px;height:15.33px;"><span>Montaż błotników zwykłych</span></div>
<div class="c t" style="left:656.15px;top:461.68px;width:55.25px;height:15.33px;"><span>10 zł</span></div>
<div class="c t" style="left:368.25px;top:477.01px;width:287.50px;height:15.33px;"><span>Montaż błotnika MTB pod widelec amortyzowany</span></div>
<div class="c t" style="left:656.15px;top:477.01px;width:55.25px;height:15.33px;"><span>7 zł</span></div>
<div class="c t" style="left:368.25px;top:492.34px;width:287.50px;height:15.33px;"><span>Montaż błotników pełnych</span></div>
<div class="c t" style="left:656.15px;top:492.34px;width:55.25px;height:15.33px;"><span>35 zł</span></div>
<div class="c t" style="left:368.25px;top:507.67px;width:287.50px;height:15.33px;"><span>Wymiana części lub naprawa pełnych błotników</span></div>
<div class="c t" style="left:656.15px;top:507.67px;width:55.25px;height:15.33px;"><span>5 zł</span></div>
<div class="c t" style="left:368.25px;top:523.00px;width:287.50px;height:15.33px;"><span>Montaż bagażnika lub koszyka na kierownicę</span></div>
<div class="c t" style="left:656.15px;top:523.00px;width:55.25px;height:15.33px;"><span>15 zł</span></div>
<div class="c t" style="left:368.25px;top:538.33px;width:287.50px;height:15.33px;"><span>Montaż fotelika dziecięcego</span></div>
<div class="c t" style="left:656.15px;top:538.33px;width:55.25px;height:15.33px;"><span>30 zł</span></div>
<div class="c t" style="left:368.25px;top:553.66px;width:287.50px;height:15.33px;"><span>Montaż stopki</span></div>
<div class="c t" style="left:656.15px;top:553.66px;width:55.25px;height:15.33px;"><span>5 zł</span></div>
<div class="c t" style="left:368.25px;top:568.99px;width:287.50px;height:15.33px;"><span>Montaż kółek bocznych roweru dzięcięcego</span></div>
<div class="c t" style="left:656.15px;top:568.99px;width:55.25px;height:15.33px;"><span>15 zł</span></div>
<div class="c t" style="left:368.25px;top:584.32px;width:287.50px;height:15.33px;"><span>Montaż lub wymiana osłony zębatki</span></div>
<div class="c t" style="left:656.15px;top:584.32px;width:55.25px;height:15.33px;"><span>10 zł</span></div>
<div class="c t" style="left:368.25px;top:599.65px;width:287.50px;height:15.33px;"><span>Montaż lub wymiana osłony łańcucha (osłona pełna)</span></div>
<div class="c t" style="left:656.15px;top:599.65px;width:55.25px;height:15.33px;"><span>30 zł</span></div>
<div class="c t" style="left:368.25px;top:614.98px;width:287.50px;height:15.33px;"><span>Montaż dynama lub naprawa oświetlenia pod dynamo</span></div>
<div class="c t" style="left:656.15px;top:614.98px;width:55.25px;height:15.33px;"><span>10 zł</span></div>
<div class="c t" style="left:368.25px;top:630.31px;width:287.50px;height:15.33px;"><span>Montaż oświetlenia pod dynamo (całość)</span></div>
<div class="c t" style="left:656.15px;top:630.31px;width:55.25px;height:15.33px;"><span>50 zł</span></div>
<div class="c t" style="left:368.25px;top:645.64px;width:287.50px;height:15.33px;"><span>Montaż oświetlenia bateryjnego (kpl.)</span></div>
<div class="c t" style="left:656.15px;top:645.64px;width:55.25px;height:15.33px;"><span>5 zł</span></div>
<div class="n1" style="left:368.25px;top:674.79px;width:342.75px;font-size:12.15px;line-height:16.0px;text-align:center;white-space:nowrap"><span>* - Cennik montażu akcesoriów nie obowiązuje w<br>przypadku ich zakupu wraz z rowerem</span></div>
<div class="n2" style="left:368.25px;top:707.19px;width:342.75px;font-size:11px;line-height:14.0px;text-align:center;white-space:nowrap"><span>Nie wykonujemy usług mycia rowerów ani malowania ram i<br>innych części rowerowych</span></div>
<div class="n3" style="left:368.25px;top:747.16px;width:342.75px;font-size:11px;line-height:13.85px;text-align:center;white-space:nowrap"><span>&nbsp; &nbsp; &nbsp;Nie wykonujemy usług ingerencji w konstrukcję roweru tj:<br>prostowanie rur ram i widelców; prostowanie kierownic i wsporników;<br>wiercenie otworów w ramie mogących wpłynąć na jej trwałość</span></div>
<div class="n3" style="left:381.65px;top:798.79px;width:329.35px;font-size:11px;line-height:14.0px;text-align:center;white-space:nowrap"><span>Nie gwintujemy rur sterowych typu A-Head.</span></div>
<div class="n2" style="left:381.65px;top:821.69px;width:329.35px;font-size:11px;line-height:14.0px;text-align:center;white-space:nowrap"><span>Nie łatamy dziurawych dętek.</span></div>
<div class="tt" style="left:14.00px;top:17.85px;width:294.65px;font-size:12.85px;line-height:16px;text-align:center;white-space:nowrap"><span><b>PRZEGLĄD REGULACYJNY ROWERU</b>:</span></div>
<div class="tt" style="left:368.25px;top:17.85px;width:287.50px;font-size:12.85px;line-height:16px;text-align:center;white-space:nowrap"><span><b>PRZEGLĄD GENERALNY ROWERU</b>:</span></div>
<div class="td" style="left:14.00px;top:41.43px;width:294.65px;font-size:9.8px;line-height:12.15px;text-align:center;white-space:nowrap"><span>Regulacja hamulców i przerzutek oraz kasowanie ewentualnych<br>luzów łożysk. Smarowanie łańcucha oraz pompowanie kół.<br>W cienie nie zawarte jest centrowanie kół.</span></div>
<div class="td" style="left:368.25px;top:41.43px;width:287.50px;font-size:9.8px;line-height:12.15px;text-align:center;white-space:nowrap"><span>Czyszczenie oraz smarowanie wszystkich łożysk i napędu,<br>wszystkie regulacje oraz sprawdzanie połączeń śrubowych.<br>W cenie nie zawarte jest centrowanie kół.</span></div>
<div class="c tp" style="left:308.65px;top:17.65px;width:50.70px;height:67.55px;"><span>50 zł</span></div>
<div class="c tp" style="left:655.75px;top:17.65px;width:55.25px;height:67.55px;"><span>100 zł</span></div>
<div class="g" style="left:14.00px;top:88.89px;width:641.75px;font-size:11px;line-height:14.2px;text-align:center;white-space:nowrap"><span><b>Przegląd gwarancyjny roweru</b>:<br>Po upływie 4-6 tygodni od daty zakupu roweru należy wykonać płatny przegląd gwarancyjny.</span></div>
<div class="c tp" style="left:655.75px;top:89.90px;width:55.25px;height:27.85px;"><span>30 zł</span></div>
<div class="ni" style="left:14.00px;top:853.61px;width:697.00px;font-size:9.78px;line-height:12px;text-align:center;white-space:nowrap"><span>Na inne usługi nie wymienione w cenniku ceny będą ustalane indywidualnie.</span></div>
<div class="pz" style="left:14.00px;top:872.97px;width:345.35px;font-size:14.6px;line-height:18.75px;text-align:center;white-space:nowrap"><span>Przechowalnia okresowa rowerów<br>(cena za rozpoczęty miesiąc kalendarzowy)</span></div>
<div class="big" style="left:14.00px;top:911.46px;width:345.35px;font-size:61.6px;line-height:70px;text-align:center;white-space:nowrap"><span>5zł</span></div>
<div class="sk" style="left:368.25px;top:886.70px;width:342.75px;font-size:10.4px;line-height:13px;text-align:center;white-space:nowrap"><span>Sklep i Serwis Rowerowy F.H.U. Ewa Głośna</span></div>
<div class="ft" style="left:19.40px;top:986.81px;width:340.00px;font-size:12.1px;line-height:14px;text-align:left;white-space:nowrap"><span>Serwis zastrzega sobie prawo do zmiany ceny usługi</span></div>
</div></body></html>
